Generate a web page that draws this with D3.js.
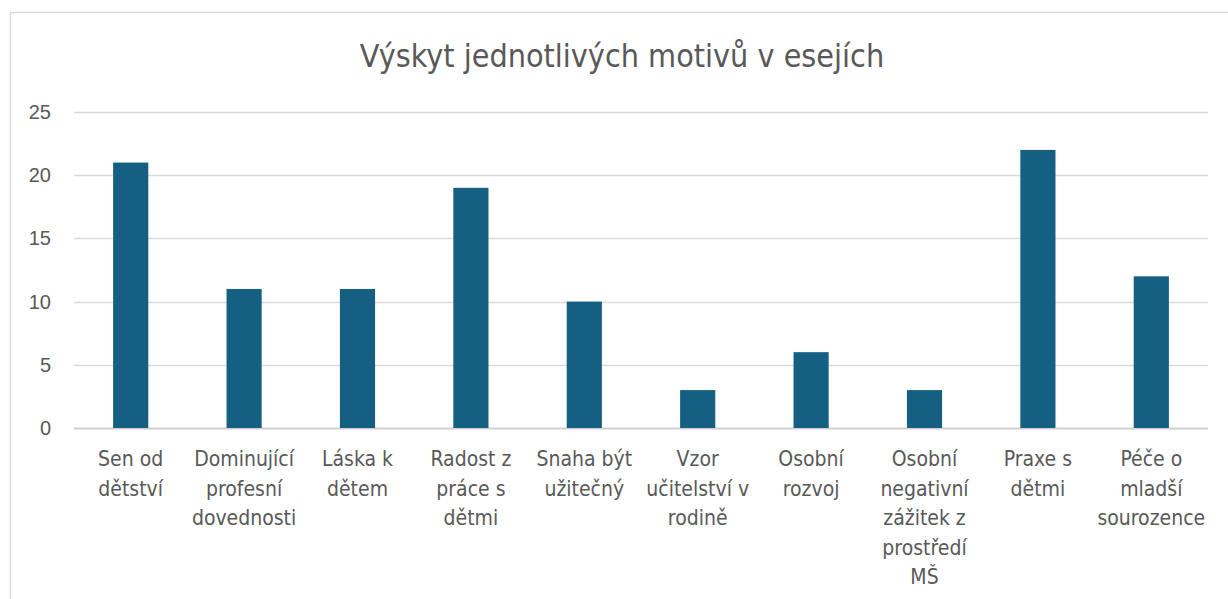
<!DOCTYPE html>
<html>
<head>
<meta charset="utf-8">
<script src="https://cdn.jsdelivr.net/npm/d3@7"></script>
<style>
  body { margin: 0; background: #fff; }
  svg { display: block; }
  .tick-label { font-family: "Liberation Sans", Arial, sans-serif; font-size: 20px; fill: #595959; }
  .cat-label { font-family: "Liberation Sans Narrow", "DejaVu Sans Condensed", sans-serif; font-size: 21px; fill: #595959; }
  .title { font-family: "Liberation Sans Narrow", "DejaVu Sans Condensed", sans-serif; font-size: 32px; fill: #595959; }
</style>
</head>
<body>
<div id="chart"></div>
<script>
// chart data
var chartTitle = "Výskyt jednotlivých motivů v esejích";
var categories = [
  ["Sen od", "dětství"],
  ["Dominující", "profesní", "dovednosti"],
  ["Láska k", "dětem"],
  ["Radost z", "práce s", "dětmi"],
  ["Snaha být", "užitečný"],
  ["Vzor", "učitelství v", "rodině"],
  ["Osobní", "rozvoj"],
  ["Osobní", "negativní", "zážitek z", "prostředí", "MŠ"],
  ["Praxe s", "dětmi"],
  ["Péče o", "mladší", "sourozence"]
];
var values = [21, 11, 11, 19, 10, 3, 6, 3, 22, 12];
var yTicks = [0, 5, 10, 15, 20, 25];

var width = 1228, height = 599;
var plot = { left: 74, right: 1208, top: 112, bottom: 428 };

var svg = d3.select("#chart").append("svg")
  .attr("width", width)
  .attr("height", height);

// chart border (runs off the right and bottom edge)
svg.append("rect")
  .attr("x", 10.5).attr("y", 12.5)
  .attr("width", width + 20).attr("height", height + 20)
  .attr("fill", "none")
  .attr("stroke", "#d9d9d9")
  .attr("stroke-width", 1.5);

svg.append("text")
  .attr("class", "title")
  .attr("x", 622).attr("y", 67)
  .attr("text-anchor", "middle")
  .text(chartTitle);

var x = d3.scaleBand()
  .domain(d3.range(categories.length))
  .range([plot.left, plot.right]);

var y = d3.scaleLinear()
  .domain([0, 25])
  .range([plot.bottom, plot.top]);

// gridlines
svg.append("g")
  .selectAll("line")
  .data(yTicks)
  .enter().append("line")
  .attr("x1", plot.left).attr("x2", plot.right)
  .attr("y1", function(d) { return Math.round(y(d)) + 0.5; })
  .attr("y2", function(d) { return Math.round(y(d)) + 0.5; })
  .attr("stroke", function(d) { return d == 0 ? "#d0d0d0" : "#d9d9d9"; })
  .attr("stroke-width", function(d) { return d == 0 ? 2 : 1.5; });

// y tick labels
svg.append("g")
  .selectAll("text")
  .data(yTicks)
  .enter().append("text")
  .attr("class", "tick-label")
  .attr("x", 51)
  .attr("y", function(d) { return y(d); })
  .attr("dy", "0.35em")
  .attr("text-anchor", "end")
  .text(function(d) { return d; });

// bars
var barW = x.bandwidth() * 0.31;
svg.append("g")
  .selectAll("rect")
  .data(values)
  .enter().append("rect")
  .attr("x", function(d, i) { return x(i) + x.bandwidth() / 2 - barW / 2; })
  .attr("y", function(d) { return y(d); })
  .attr("width", barW)
  .attr("height", function(d) { return y(0) - y(d); })
  .attr("fill", "#156082");

// category labels
var labels = svg.append("g")
  .selectAll("text")
  .data(categories)
  .enter().append("text")
  .attr("class", "cat-label")
  .attr("text-anchor", "middle")
  .attr("x", function(d, i) { return x(i) + x.bandwidth() / 2; })
  .attr("y", 466);

labels.selectAll("tspan")
  .data(function(d) { return d; })
  .enter().append("tspan")
  .attr("x", function() { return d3.select(this.parentNode).attr("x"); })
  .attr("dy", function(d, i) { return i == 0 ? 0 : 29.5; })
  .text(function(d) { return d; });
</script>
</body>
</html>
